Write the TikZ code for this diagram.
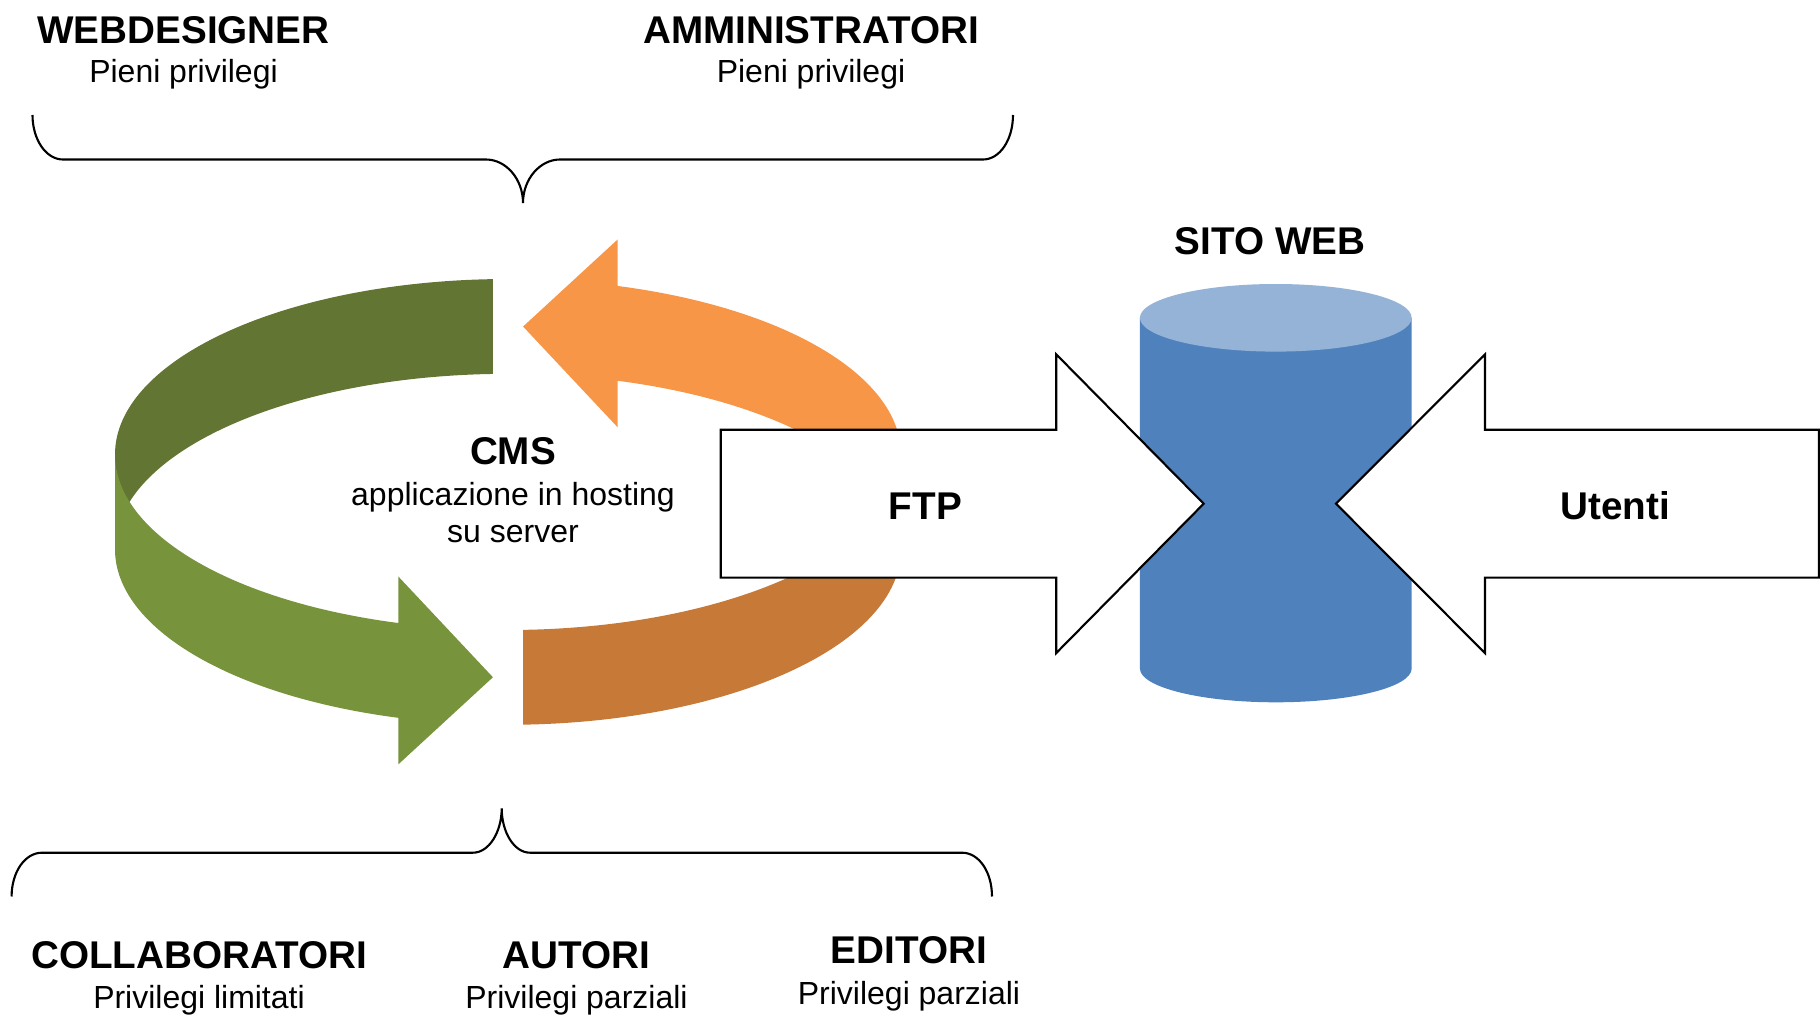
\documentclass[tikz,border=0pt]{standalone}
\usepackage{fontspec}
\setmainfont{Liberation Sans}
\usetikzlibrary{calc}
\definecolor{verdescuro}{HTML}{637532}
\definecolor{verdechiaro}{HTML}{77933C}
\definecolor{arancio}{HTML}{F79646}
\definecolor{aranciocupo}{HTML}{C77A37}
\definecolor{blusito}{HTML}{4F81BD}
\definecolor{blutappo}{HTML}{95B3D7}
\begin{document}
\begin{tikzpicture}
[ruolo/.style={font=\bfseries\fontsize{11}{13}\selectfont,anchor=base,inner sep=0pt},
privilegi/.style={font=\fontsize{9.1}{11}\selectfont,anchor=base,inner sep=0pt},
anello/.style={x radius=3.93cm,y radius=1.755cm},
graffa/.style={draw=black,line width=0.6pt},
freccione/.style={draw=black,fill=white,line width=0.6pt}]
\useasboundingbox (0,0) rectangle (18.2,10.15);
\coordinate (c1) at (5.08,5.605);
\coordinate (c2) at (5.08,4.657);
\coordinate (c0) at (5.08,5.131);
\fill[verdescuro] ($(c1)+(92.2:3.93cm and 1.755cm)$) arc[anello,start angle=92.2,end angle=180]
  -- ($(c2)+(180:3.93cm and 1.755cm)$) arc[anello,start angle=180,end angle=92.2] -- cycle;
\fill[arancio] ($(c1)+(0:3.93cm and 1.755cm)$) arc[anello,start angle=0,end angle=73.8]
  -- ($(c1)+(73.8:3.93cm and 1.755cm)+(0,0.465)$)
  -- ($(c0)+(87.8:3.93cm and 1.755cm)$)
  -- ($(c2)+(73.8:3.93cm and 1.755cm)+(0,-0.465)$)
  -- ($(c2)+(73.8:3.93cm and 1.755cm)$) arc[anello,start angle=73.8,end angle=0] -- cycle;
\fill[verdechiaro] ($(c1)+(180:3.93cm and 1.755cm)$) arc[anello,start angle=180,end angle=253.8]
  -- ($(c1)+(253.8:3.93cm and 1.755cm)+(0,0.465)$)
  -- ($(c0)+(267.8:3.93cm and 1.755cm)$)
  -- ($(c2)+(253.8:3.93cm and 1.755cm)+(0,-0.465)$)
  -- ($(c2)+(253.8:3.93cm and 1.755cm)$) arc[anello,start angle=253.8,end angle=180] -- cycle;
\fill[aranciocupo] ($(c1)+(272.2:3.93cm and 1.755cm)$) arc[anello,start angle=272.2,end angle=360]
  -- ($(c2)+(360:3.93cm and 1.755cm)$) arc[anello,start angle=360,end angle=272.2] -- cycle;
\fill[blusito] (11.399,6.972) -- (11.399,3.465) arc[start angle=180,end angle=360,x radius=1.359,y radius=0.338]
  -- (14.117,6.972) -- cycle;
\fill[blutappo] (12.758,6.972) ellipse[x radius=1.359,y radius=0.338];
\draw[freccione] (7.208,5.8525) -- (10.562,5.8525) -- (10.562,6.607) -- (12.037,5.113)
  -- (10.562,3.619) -- (10.562,4.3735) -- (7.208,4.3735) -- cycle;
\draw[freccione] (18.19,5.8525) -- (14.85,5.8525) -- (14.85,6.607) -- (13.36,5.113)
  -- (14.85,3.619) -- (14.85,4.3735) -- (18.19,4.3735) -- cycle;
\draw[graffa] (0.325,9.0) .. controls (0.325,8.755) and (0.46,8.555) .. (0.63,8.555)
  -- (4.86,8.555) .. controls (5.06,8.555) and (5.23,8.36) .. (5.23,8.12)
  .. controls (5.23,8.36) and (5.40,8.555) .. (5.60,8.555)
  -- (9.83,8.555) .. controls (10.0,8.555) and (10.13,8.755) .. (10.13,9.0);
\draw[graffa] (0.116,1.185) .. controls (0.116,1.43) and (0.25,1.623) .. (0.42,1.623)
  -- (4.73,1.623) .. controls (4.89,1.623) and (5.017,1.83) .. (5.017,2.067)
  .. controls (5.017,1.83) and (5.14,1.623) .. (5.30,1.623)
  -- (9.62,1.623) .. controls (9.79,1.623) and (9.92,1.43) .. (9.92,1.185);
\node[ruolo] (webdesigner) at (1.835,9.717) {WEBDESIGNER};
\node[privilegi,yshift=-3.94mm] (webpriv) at (webdesigner.base) {Pieni privilegi};
\node[ruolo] (amministratori) at (8.11,9.717) {AMMINISTRATORI};
\node[privilegi,yshift=-3.94mm] (ammpriv) at (amministratori.base) {Pieni privilegi};
\node[ruolo] (sito) at (12.70,7.60) {SITO WEB};
\node[ruolo] (cms) at (5.13,5.51) {CMS};
\node[privilegi] (hosting) at (5.13,5.10) {applicazione in hosting};
\node[privilegi,yshift=-3.77mm] (server) at (hosting.base) {su server};
\node[ruolo] (ftp) at (9.255,4.96) {FTP};
\node[ruolo] (utenti) at (16.15,4.96) {Utenti};
\node[ruolo] (collaboratori) at (1.99,0.467) {COLLABORATORI};
\node[privilegi,yshift=-3.97mm] (collpriv) at (collaboratori.base) {Privilegi limitati};
\node[ruolo] (autori) at (5.765,0.467) {AUTORI};
\node[privilegi,yshift=-3.97mm] (autpriv) at (autori.base) {Privilegi parziali};
\node[ruolo] (editori) at (9.09,0.52) {EDITORI};
\node[privilegi,yshift=-4.1mm] (edipriv) at (editori.base) {Privilegi parziali};
\end{tikzpicture}
\end{document}
